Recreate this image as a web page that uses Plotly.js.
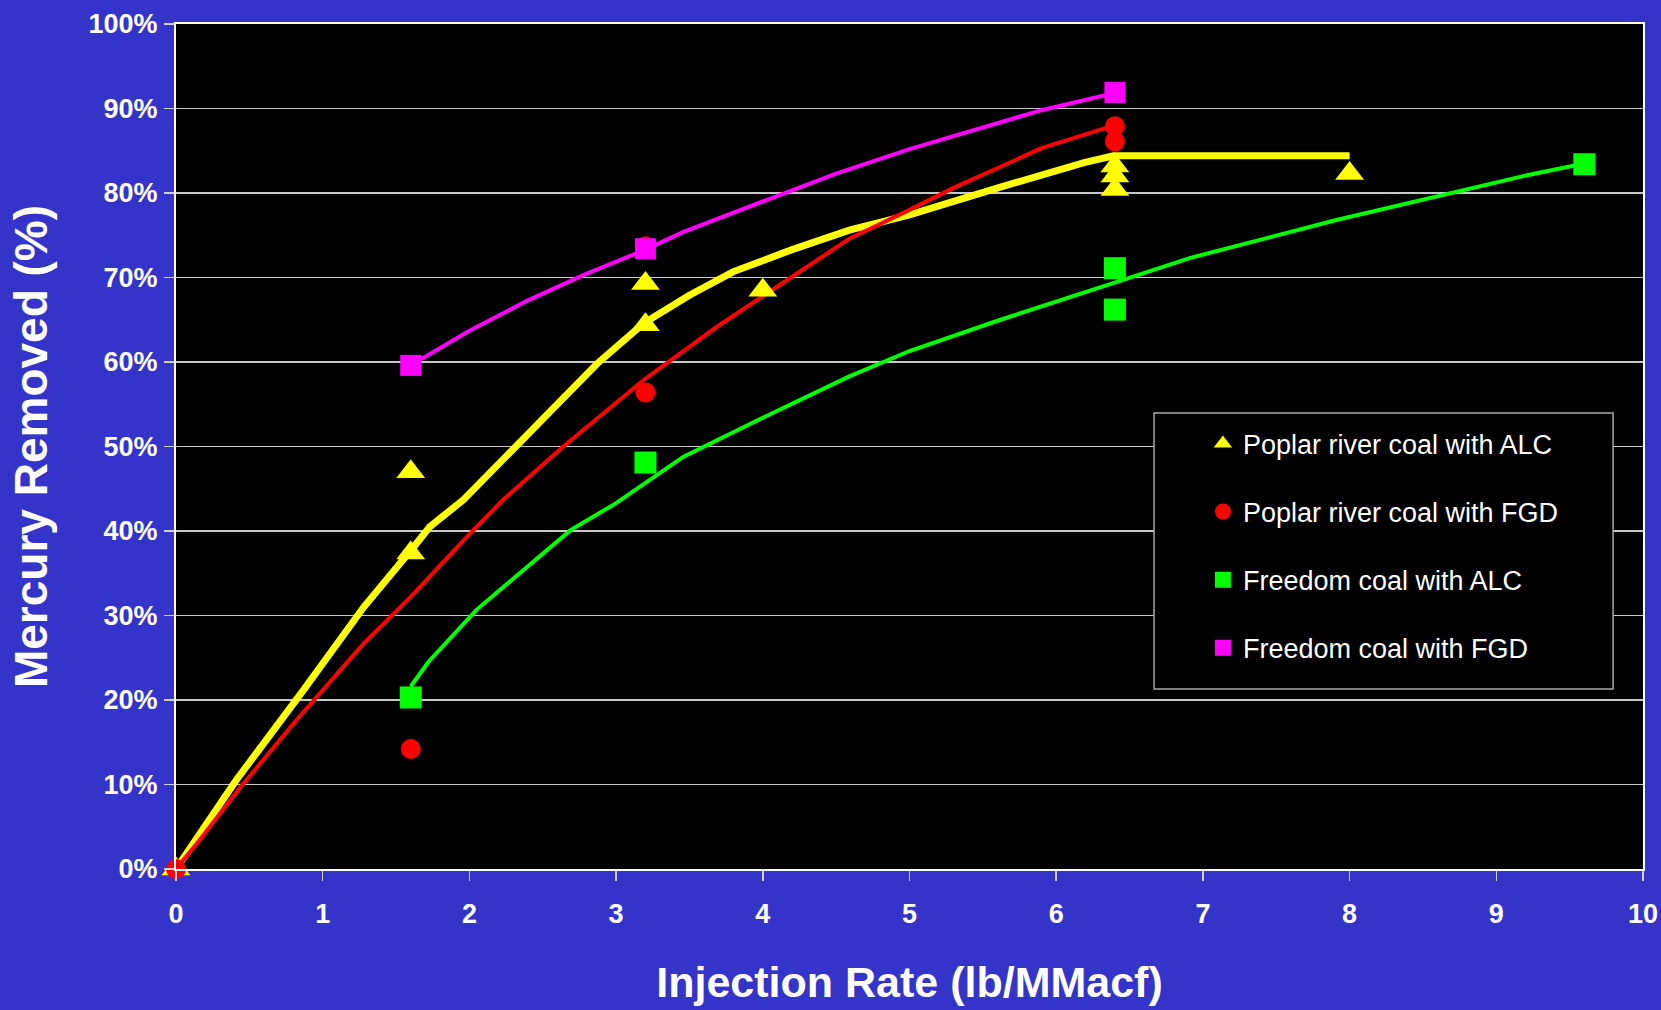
<!DOCTYPE html>
<html>
<head>
<meta charset="utf-8">
<script src="https://cdn.plot.ly/plotly-3.0.1.min.js"></script>
<style>
  html, body { margin: 0; padding: 0; background: #3434CA; }
  #chart { width: 1661px; height: 1010px; }
</style>
</head>
<body>
<div id="chart"></div>
<script>
// ---- Data (injection rate lb/MMacf vs. % mercury removed) ----
const seriesNames = [
  "Poplar river coal with ALC",
  "Poplar river coal with FGD",
  "Freedom coal with ALC",
  "Freedom coal with FGD"
];

// Measured points
const poplarAlcX = [0, 1.6, 1.6, 3.2, 3.2, 4.0, 6.4, 6.4, 6.4, 8.0];
const poplarAlcY = [0, 47.0, 37.4, 69.3, 64.4, 68.5, 83.2, 82.0, 80.4, 82.3];

const poplarFgdX = [0, 1.6, 3.2, 3.2, 6.4, 6.4];
const poplarFgdY = [0, 14.2, 56.4, 73.7, 87.9, 86.1];

const freedomAlcX = [1.6, 3.2, 6.4, 6.4, 9.6];
const freedomAlcY = [20.3, 48.1, 71.1, 66.2, 83.4];

const freedomFgdX = [1.6, 3.2, 6.4];
const freedomFgdY = [59.6, 73.4, 91.9];

// Trend curves
const poplarAlcCurveX = [0, 0.41, 0.87, 1.28, 1.62, 1.73, 1.96, 2.32, 2.6, 2.87, 3.19, 3.5, 3.8, 4.2, 4.59, 5.0, 5.62, 6.19, 6.39, 8.0];
const poplarAlcCurveY = [0, 10.5, 21.2, 31.0, 38.1, 40.5, 43.7, 50.0, 55.0, 59.8, 64.6, 67.9, 70.7, 73.3, 75.6, 77.4, 80.7, 83.6, 84.4, 84.4];

const poplarFgdCurveX = [0, 0.16, 0.44, 0.82, 1.28, 1.6, 1.96, 2.23, 2.64, 3.19, 3.69, 4.1, 4.59, 5.0, 5.3, 5.62, 5.9, 6.34, 6.4];
const poplarFgdCurveY = [0, 3.4, 9.7, 17.6, 26.7, 32.2, 38.9, 43.7, 50.0, 57.9, 64.2, 69.0, 74.6, 78.0, 80.6, 83.1, 85.3, 87.7, 88.0];

const freedomAlcCurveX = [1.6, 1.72, 2.05, 2.55, 2.69, 3.0, 3.46, 4.0, 4.59, 5.0, 5.62, 6.42, 6.91, 7.91, 8.69, 9.21, 9.6];
const freedomAlcCurveY = [21.6, 24.5, 30.7, 38.1, 40.1, 43.3, 48.8, 53.4, 58.3, 61.3, 65.0, 69.5, 72.3, 76.8, 80.0, 82.1, 83.5];

const freedomFgdCurveX = [1.6, 1.82, 2.0, 2.4, 2.78, 3.2, 3.46, 4.03, 4.5, 5.0, 5.62, 5.9, 6.34, 6.4];
const freedomFgdCurveY = [59.6, 61.8, 63.7, 67.3, 70.3, 73.3, 75.4, 79.2, 82.3, 85.2, 88.4, 89.8, 91.6, 91.8];

const xTicks = [0, 1, 2, 3, 4, 5, 6, 7, 8, 9, 10];
const yTicks = [0, 10, 20, 30, 40, 50, 60, 70, 80, 90, 100];
const yTickText = yTicks.map(v => v + "%");

// ---- Styles ----
const colors = ["#FFFF00", "#FF0000", "#00FF00", "#FF00FF"];
const symbols = ["triangle-up", "circle", "square", "square"];
const markerSizes = [25, 20, 22, 21];
const lineWidths = [7, 4, 4, 4];

const curvesX = [poplarAlcCurveX, poplarFgdCurveX, freedomAlcCurveX, freedomFgdCurveX];
const curvesY = [poplarAlcCurveY, poplarFgdCurveY, freedomAlcCurveY, freedomFgdCurveY];
const pointsX = [poplarAlcX, poplarFgdX, freedomAlcX, freedomFgdX];
const pointsY = [poplarAlcY, poplarFgdY, freedomAlcY, freedomFgdY];

const traces = [];
for (let i = 0; i < 4; i++) {
  traces.push({
    x: curvesX[i], y: curvesY[i], type: "scatter", mode: "lines",
    line: { color: colors[i], width: lineWidths[i], shape: "linear" },
    showlegend: false, hoverinfo: "skip", legendgroup: "g" + i, cliponaxis: false
  });
}
for (let i = 0; i < 4; i++) {
  traces.push({
    x: pointsX[i], y: pointsY[i], type: "scatter", mode: "markers",
    name: seriesNames[i], legendgroup: "g" + i,
    marker: { color: colors[i], symbol: symbols[i], size: markerSizes[i], line: { width: 0 } },
    cliponaxis: false
  });
}

const tickFont = { family: "Arial, 'Liberation Sans', sans-serif", size: 27, color: "#FFFFFF", weight: "bold" };

const layout = {
  width: 1661, height: 1010,
  paper_bgcolor: "#3434CA",
  plot_bgcolor: "#000000",
  margin: { l: 176, r: 18, t: 24, b: 141 },
  showlegend: true,
  legend: {
    x: 0.7, y: 0.532, xanchor: "left", yanchor: "top",
    bgcolor: "rgba(0,0,0,0)", borderwidth: 0,
    font: { family: "Arial, 'Liberation Sans', sans-serif", size: 27, color: "#FFFFFF" },
    traceorder: "grouped", tracegroupgap: 30, itemsizing: "trace"
  },
  xaxis: {
    range: [0, 10], tickvals: xTicks, ticktext: xTicks.map(String),
    showgrid: false, zeroline: false,
    showline: true, linecolor: "#FFFFFF", linewidth: 2, mirror: true,
    ticks: "outside", ticklen: 10, tickcolor: "#D0D0D0", tickwidth: 1.5,
    tickfont: tickFont, ticklabelstandoff: 10,
    title: { text: "Injection Rate (lb/MMacf)", standoff: 38,
      font: { family: "Arial, 'Liberation Sans', sans-serif", size: 43, color: "#FFFFFF", weight: "bold" } }
  },
  yaxis: {
    range: [0, 100], tickvals: yTicks, ticktext: yTickText,
    showgrid: true, gridcolor: "#C8C8C8", gridwidth: 1.5, zeroline: false,
    showline: true, linecolor: "#FFFFFF", linewidth: 2, mirror: true,
    ticks: "outside", ticklen: 10, tickcolor: "#D0D0D0", tickwidth: 1.5,
    tickfont: tickFont, ticklabelstandoff: 1,
    title: { text: "Mercury Removed (%)", standoff: 26,
      font: { family: "Arial, 'Liberation Sans', sans-serif", size: 46, color: "#FFFFFF", weight: "bold" } }
  },
  shapes: [{
    type: "rect", xref: "paper", yref: "paper", layer: "above",
    x0: 0.6667, x1: 0.9796, y0: 0.213, y1: 0.5396,
    fillcolor: "#000000", line: { color: "#A8A8A8", width: 1.5 }
  }]
};

Plotly.newPlot("chart", traces, layout, { displayModeBar: false, staticPlot: true });
</script>
</body>
</html>
